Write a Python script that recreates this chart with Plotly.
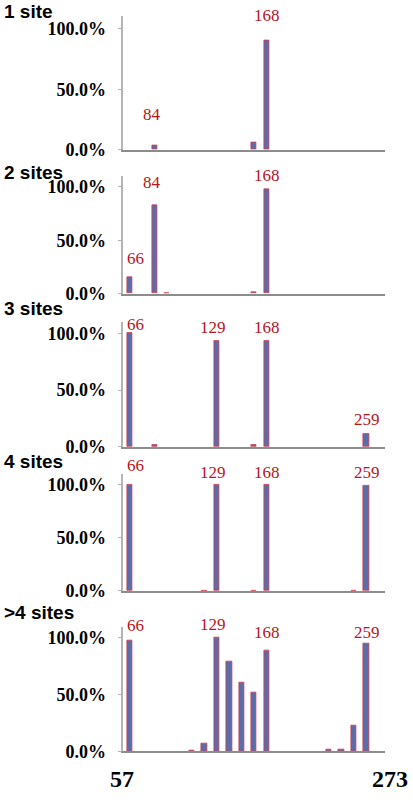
import plotly.graph_objects as go

# 21 candidate positions along the sequence (57..273), labelled sites only
positions = list(range(21))
panel_titles = ["1 site", "2 sites", "3 sites", "4 sites", ">4 sites"]

site_1 = [0, 0, 3.8, 0, 0, 0, 0, 0, 0, 0, 6.0, 90.2, 0, 0, 0, 0, 0, 0, 0, 0, 0]
site_2 = [15.4, 0, 82.4, 0.5, 0, 0, 0, 0, 0, 0, 1.5, 97.5, 0, 0, 0, 0, 0, 0, 0, 0, 0]
site_3 = [100, 0, 1.0, 0, 0, 0, 0, 93.3, 0, 0, 1.5, 93.3, 0, 0, 0, 0, 0, 0, 0, 11.3, 0]
site_4 = [100, 0, 0, 0, 0, 0, 0.3, 100, 0, 0, 0.3, 100, 0, 0, 0, 0, 0, 0, 0.3, 98.8, 0]
site_5 = [98, 0, 0, 0, 0, 0.3, 6.4, 100, 79, 61, 51.7, 88.4, 0, 0, 0, 0, 1.2, 1.2, 23, 95, 0]
panels = [site_1, site_2, site_3, site_4, site_5]

# site labels: (position, text, label height in %)
labels = [
    [(1.82, "84", 29), (11.05, "168", 111)],
    [(0.48, "66", 33), (1.82, "84", 104), (11.05, "168", 111)],
    [(0.48, "66", 108), (6.69, "129", 105), (11.05, "168", 105), (19.07, "259", 24)],
    [(0.45, "66", 118), (6.69, "129", 111), (11.05, "168", 111), (19.07, "259", 111)],
    [(0.45, "66", 111), (6.69, "129", 112), (11.05, "168", 105), (19.07, "259", 105)],
]
end_labels = ["57", "273"]

# pixel geometry of each panel (bottom, top) in an 800px tall page
H, W = 800, 413
YMAX = 1.1
panel_px = [(151.7, 16.7), (297.3, 178.5), (452.3, 326.1), (598.3, 479.8), (760.7, 634.5)]
title_px = [12, 175, 312, 467, 620]
x_dom = [123.3 / W, 385 / W]

BAR = "#5a6dab"
EDGE = "#d23a4a"
RED = "#b8141e"

fig = go.Figure()
ann = []
for i, vals in enumerate(panels):
    n = "" if i == 0 else str(i + 1)
    fig.add_trace(go.Bar(
        x=positions, y=[v / 100 if v else None for v in vals], width=0.42,
        marker=dict(color=BAR, line=dict(color=EDGE, width=0.8)),
        xaxis="x" + n, yaxis="y" + n, showlegend=False, hoverinfo="skip",
    ))
    b, t = panel_px[i]
    fig.update_layout(**{
        "xaxis" + n: dict(domain=x_dom, range=[-0.5, 20.5], showticklabels=False,
                          showgrid=False, zeroline=False, showline=True,
                          linecolor="#8c8c8c", linewidth=2, ticks="",
                          anchor="y" + n, fixedrange=True),
        "yaxis" + n: dict(domain=[1 - b / H, 1 - t / H], range=[0, YMAX],
                          tickvals=[0, 0.5, 1.0], ticktext=["0.0%", "50.0%", "100.0%"],
                          tickfont=dict(family="Liberation Serif", size=18, color="black",
                                        weight="bold"),
                          ticks="outside", ticklen=4, tickcolor="#b0b0b0",
                          ticklabelstandoff=8,
                          showgrid=False, zeroline=False, showline=True,
                          linecolor="#b4b4b4", linewidth=1.5,
                          anchor="x" + n, fixedrange=True),
    })
    for xp, txt, yl in labels[i]:
        ann.append(dict(x=xp, y=yl / 100 / YMAX, xref="x" + n, yref="y" + n + " domain",
                        text=txt, showarrow=False, xanchor="center", yanchor="middle",
                        font=dict(family="Liberation Serif", size=17, color=RED)))
    ann.append(dict(x=0.005, y=1 - title_px[i] / H, xref="paper", yref="paper",
                    text=panel_titles[i], showarrow=False, xanchor="left", yanchor="middle",
                    font=dict(family="Liberation Sans", size=19, color="black", weight="bold")))

for xp, txt in zip([122 / W, 390 / W], end_labels):
    ann.append(dict(x=xp, y=1 - 789 / H, xref="paper", yref="paper", text=txt,
                    showarrow=False, xanchor="center", yanchor="middle",
                    font=dict(family="Liberation Serif", size=24, color="black", weight="bold")))

fig.update_layout(
    width=W, height=H, margin=dict(l=0, r=0, t=0, b=0),
    plot_bgcolor="white", paper_bgcolor="white",
    annotations=ann, bargap=0,
)

# the page's default body margin would push the figure 8px off the window
fig.write_html("out.html", config={"displayModeBar": False},
               post_script="document.body.style.margin='0';")
